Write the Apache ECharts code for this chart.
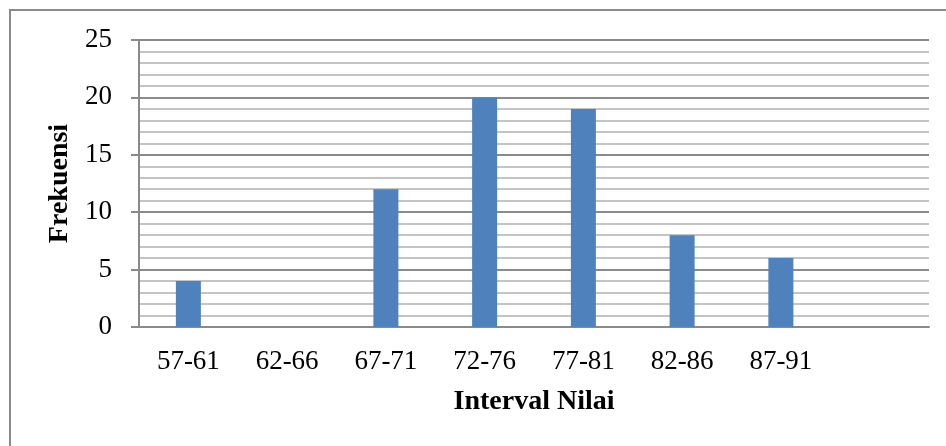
<!DOCTYPE html>
<html><head><meta charset="utf-8">
<script src="https://cdn.jsdelivr.net/npm/echarts@6/dist/echarts.min.js"></script>
<style>html,body{margin:0;padding:0;background:#fff}#c{width:946px;height:446px}</style>
</head><body><div id="c"></div>
<script>
const categories = ['57-61','62-66','67-71','72-76','77-81','82-86','87-91',''];
const frekuensi = [4, 0, 12, 20, 19, 8, 6, null];
const yTicks = [0, 5, 10, 15, 20, 25];
const xTitle = 'Interval Nilai';
const yTitle = 'Frekuensi';

const chart = echarts.init(document.getElementById('c'), null, {renderer:'canvas'});
const font = '"Liberation Serif", "Times New Roman", serif';
chart.setOption({
  animation: false,
  graphic: [{type:'rect', shape:{x:10,y:10,width:1000,height:500}, style:{fill:'none', stroke:'#8a8a8a', lineWidth:2}, silent:true}],
  grid: {left:139, right:17, top:40, bottom:119, containLabel:false},
  xAxis: {
    type:'category', data: categories,
    axisLine:{show:true, lineStyle:{color:'#8a8a8a', width:2}},
    axisTick:{show:false},
    axisLabel:{color:'#000', fontFamily:font, fontSize:27, margin:21, interval:0},
    name: xTitle, nameLocation:'middle', nameGap:61,
    nameTextStyle:{color:'#000', fontFamily:font, fontSize:28, fontWeight:'bold'}
  },
  yAxis: {
    type:'value', min:0, max:yTicks[yTicks.length-1], interval:5,
    axisLine:{show:true, lineStyle:{color:'#8a8a8a', width:2}},
    axisTick:{show:true, length:8, lineStyle:{color:'#8a8a8a', width:2}},
    axisLabel:{color:'#000', fontFamily:font, fontSize:27, margin:27},
    splitLine:{show:true, lineStyle:{color:'#8a8a8a', width:2}},
    minorTick:{show:false, splitNumber:5},
    minorSplitLine:{show:true, lineStyle:{color:'#c4c4c4', width:2}},
    name: yTitle, nameLocation:'middle', nameGap:63, nameRotate:90,
    nameTextStyle:{color:'#000', fontFamily:font, fontSize:28, fontWeight:'bold'}
  },
  series: [{
    type:'bar', data: frekuensi, barWidth:25,
    itemStyle:{color:'#4f81bd'}
  }]
});
</script></body></html>
